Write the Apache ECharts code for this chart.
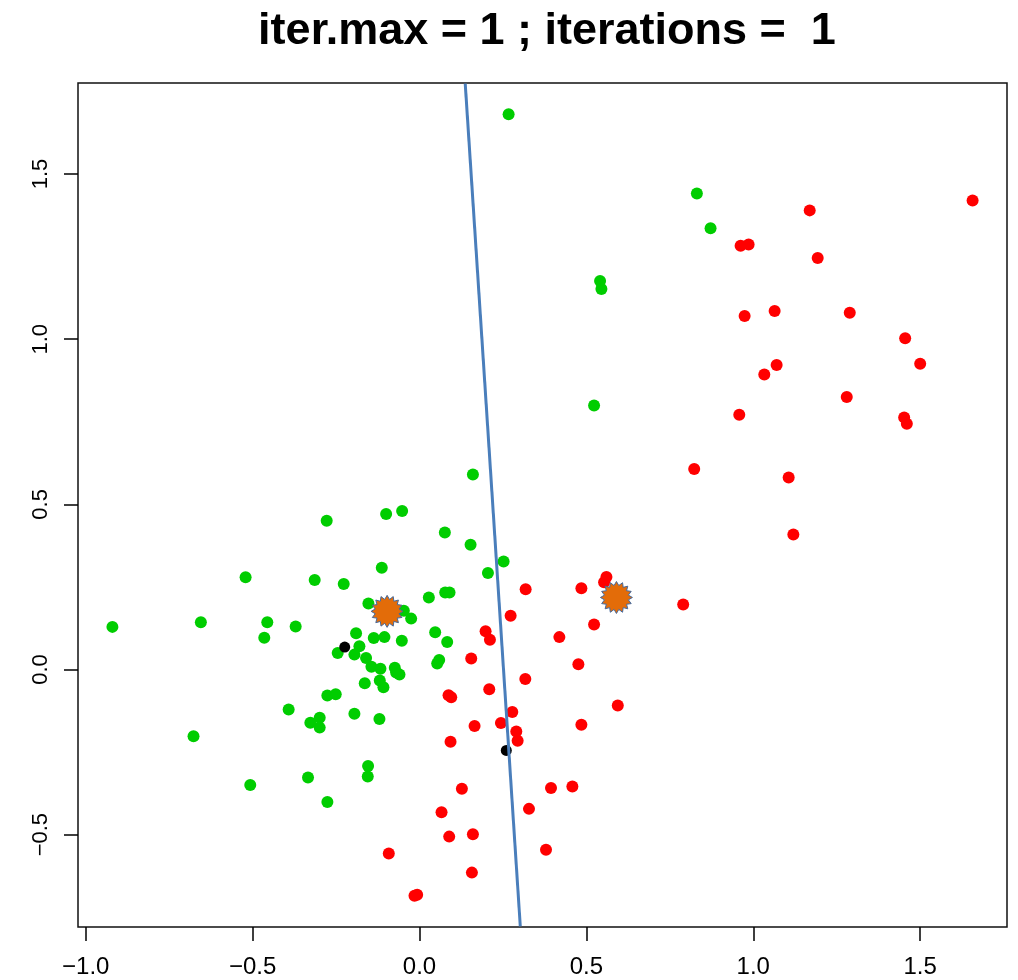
<!DOCTYPE html>
<html><head><meta charset="utf-8">
<script src="https://cdn.jsdelivr.net/npm/echarts@6/dist/echarts.min.js"></script>
<style>html,body{margin:0;padding:0;background:#fff}#c{width:1018px;height:980px}</style>
</head><body><div id="c"></div>
<script>
const titleText = 'iter.max = 1 ; iterations =  1';
const xTicks = [-1.0, -0.5, 0.0, 0.5, 1.0, 1.5];
const yTicks = [-0.5, 0.0, 0.5, 1.0, 1.5];

const greenPoints = [
[0.267,1.681],[0.831,1.441],[0.872,1.336],[0.541,1.176],[0.545,1.152],[0.523,0.799],
[0.160,0.590],[-0.278,0.450],[-0.100,0.471],[-0.052,0.480],[0.076,0.415],[0.153,0.378],
[0.252,0.327],[0.205,0.292],[-0.521,0.279],[-0.314,0.271],[-0.227,0.259],[-0.113,0.308],
[0.028,0.218],[0.077,0.233],[0.090,0.233],[-0.153,0.200],[-0.047,0.178],[-0.025,0.154],
[-0.920,0.129],[-0.655,0.143],[-0.456,0.143],[-0.371,0.130],[-0.465,0.096],[-0.190,0.110],
[-0.137,0.095],[-0.105,0.098],[-0.053,0.087],[0.047,0.113],[0.083,0.083],[-0.180,0.070],
[-0.245,0.050],[-0.195,0.045],[-0.160,0.035],[0.059,0.029],[0.053,0.018],[-0.144,0.008],
[-0.117,0.002],[-0.074,0.005],[-0.070,-0.009],[-0.060,-0.015],[-0.164,-0.042],[-0.119,-0.033],
[-0.108,-0.054],[-0.276,-0.079],[-0.251,-0.075],[-0.392,-0.121],[-0.195,-0.134],[-0.299,-0.146],
[-0.327,-0.161],[-0.299,-0.176],[-0.120,-0.150],[-0.677,-0.202],[-0.507,-0.350],[-0.334,-0.327],
[-0.276,-0.401],[-0.154,-0.292],[-0.155,-0.324]
];

const redPoints = [
[1.657,1.420],[1.169,1.390],[0.962,1.283],[0.986,1.287],[1.193,1.246],[0.974,1.070],
[1.064,1.085],[1.289,1.080],[1.455,1.003],[1.500,0.926],[1.070,0.922],[1.033,0.893],
[1.280,0.825],[0.958,0.771],[1.452,0.763],[1.460,0.744],[0.823,0.607],[1.106,0.581],
[1.120,0.409],[0.318,0.243],[0.485,0.246],[0.560,0.280],[0.553,0.264],[0.790,0.197],
[0.273,0.163],[0.198,0.116],[0.211,0.090],[0.523,0.136],[0.419,0.098],[0.155,0.033],
[0.476,0.016],[0.317,-0.029],[0.209,-0.060],[0.087,-0.078],[0.095,-0.084],[0.594,-0.109],
[0.278,-0.129],[0.244,-0.162],[0.165,-0.171],[0.290,-0.188],[0.294,-0.216],[0.485,-0.167],
[0.093,-0.219],[0.127,-0.361],[0.394,-0.359],[0.458,-0.354],[0.066,-0.432],[0.328,-0.422],
[0.089,-0.506],[0.160,-0.499],[0.379,-0.546],[0.157,-0.615],[-0.015,-0.685],[-0.007,-0.682],
[-0.092,-0.557]
];

const blackPoints = [[-0.224,0.068],[0.260,-0.245]];
const centroids = [[-0.097,0.176],[0.590,0.218]];
const boundaryLine = [[0.137,1.774],[0.302,-0.778]];

// R-style 4% axis padding from the plotted data
const allPts = greenPoints.concat(redPoints);
const xs = allPts.map(p => p[0]), ys = allPts.map(p => p[1]);
const xLo = Math.min(...xs), xHi = Math.max(...xs);
const yLo = Math.min(...ys), yHi = Math.max(...ys);
const xMin = xLo - 0.04 * (xHi - xLo), xMax = xHi + 0.04 * (xHi - xLo);
const yMin = yLo - 0.04 * (yHi - yLo), yMax = yHi + 0.04 * (yHi - yLo);

function starPath(n, inner) {
  let d = '';
  for (let i = 0; i < 2 * n; i++) {
    const r = i % 2 === 0 ? 1 : inner;
    const a = Math.PI * i / n - Math.PI / 2;
    d += (i ? 'L' : 'M') + (50 + 50 * r * Math.cos(a)).toFixed(2) + ' ' + (50 + 50 * r * Math.sin(a)).toFixed(2) + ' ';
  }
  return 'path://' + d + 'Z';
}
const fmt = v => (v < 0 ? '\u2212' : '') + Math.abs(v).toFixed(1);
const FONT = "'Liberation Sans', Arial, Helvetica, sans-serif";

const chart = echarts.init(document.getElementById('c'), null, {renderer: 'canvas'});
chart.setOption({
  animation: false,
  backgroundColor: '#ffffff',
  title: {
    text: titleText, left: 542, top: 4, textAlign: 'center',
    textStyle: {fontFamily: FONT, fontWeight: 'bold', fontSize: 45, color: '#000'}
  },
  grid: {left: 78, right: 11, top: 83, bottom: 53, show: true, borderColor: '#111', borderWidth: 1.5,
         backgroundColor: 'transparent', outerBoundsMode: 'none'},
  xAxis: {
    type: 'value', min: xMin, max: xMax, position: 'bottom',
    axisLine: {show: false, onZero: false},
    splitLine: {show: false},
    axisTick: {show: true, customValues: xTicks, length: 14, lineStyle: {color: '#000', width: 1.5}},
    axisLabel: {customValues: xTicks, formatter: fmt, fontFamily: FONT, fontSize: 24, color: '#000', margin: 28}
  },
  yAxis: {
    type: 'value', min: yMin, max: yMax, position: 'left',
    axisLine: {show: false, onZero: false},
    splitLine: {show: false},
    axisTick: {show: true, customValues: yTicks, length: 14, lineStyle: {color: '#000', width: 1.5}},
    axisLabel: {customValues: yTicks, formatter: fmt, rotate: 90, fontFamily: FONT, fontSize: 22, color: '#000', margin: 26}
  },
  series: [
    {type: 'scatter', data: greenPoints, symbolSize: 12, itemStyle: {color: '#00CD00', opacity: 1}, z: 2},
    {type: 'scatter', data: redPoints, symbolSize: 12, itemStyle: {color: '#FF0000', opacity: 1}, z: 2},
    {type: 'scatter', data: blackPoints, symbolSize: 11, itemStyle: {color: '#000000', opacity: 1}, z: 3},
    {type: 'line', data: boundaryLine, showSymbol: false, symbol: 'none', clip: true,
     lineStyle: {color: '#4A7EBB', width: 3}, z: 4},
    {type: 'scatter', data: centroids, symbol: starPath(16, 0.76), symbolSize: 32,
     itemStyle: {color: '#E36C09', borderColor: '#46699B', borderWidth: 1, opacity: 1}, z: 5}
  ]
});
</script>
</body></html>
